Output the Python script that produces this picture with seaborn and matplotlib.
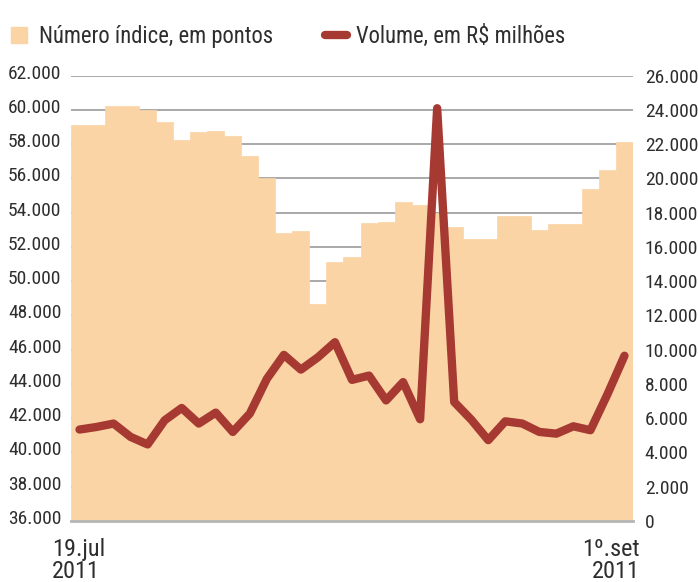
import matplotlib

matplotlib.use("Agg")
import matplotlib.pyplot as plt
import matplotlib.transforms as mtransforms
from matplotlib import font_manager
from matplotlib.lines import Line2D
import pandas as pd
import seaborn as sns

# índice diário (eixo esquerdo) e volume em R$ milhões (eixo direito), 19.jul a 1º.set de 2011
indice = [59100, 59150, 60250, 60250, 60000, 59320, 58260, 58700, 58800, 58500,
          57290, 56030, 52830, 52960, 48660, 51150, 51410, 53400, 53470, 54650,
          54450, 54000, 53160, 52440, 52440, 53800, 53800, 52970, 53350, 53350,
          55400, 56510, 58120]
volume = [5340, 5490, 5690, 4910, 4470, 5880, 6600, 5690, 6330, 5200,
          6270, 8300, 9700, 8840, 9560, 10440, 8240, 8490, 7040, 8110,
          5940, 24100, 6950, 5920, 4720, 5820, 5690, 5200, 5100, 5530,
          5300, 7400, 9650]
ticks_indice = list(range(36000, 62001, 2000))
ticks_volume = list(range(0, 26001, 2000))
rotulos_x = ["19.jul\n2011", "1º.set\n2011"]
legenda = ["Número índice, em pontos", "Volume, em R$ milhões"]

PESSEGO = "#FBD4A6"
VERMELHO = "#A63A32"
TEXTO = "#2e2e2e"

sns.set_style("white")
disponiveis = {f.name for f in font_manager.fontManager.ttflist}
fonte = next((f for f in ["Liberation Sans Narrow", "Roboto Condensed", "Open Sans Condensed", "Roboto"]
              if f in disponiveis), "DejaVu Sans")
plt.rcParams["font.family"] = [fonte, "DejaVu Sans"]


def milhar(v):
    return f"{v:,}".replace(",", ".")


df = pd.DataFrame({"dia": range(len(indice)), "indice": indice, "volume": volume})

fig = plt.figure(figsize=(6.98, 5.82), dpi=100)
ax = fig.add_axes([71 / 698, 61 / 582, 562 / 698, 445.3 / 582])

sns.barplot(data=df, x="dia", y="indice", color=PESSEGO, saturation=1, width=1,
            errorbar=None, edgecolor=PESSEGO, linewidth=0.5, ax=ax)
ax.set_ylim(36000, 62000)
ax.set_axisbelow(True)
ax.yaxis.grid(True, color="#9b9b9b", linewidth=1.2)

ax2 = ax.twinx()
sns.lineplot(data=df, x="dia", y="volume", color=VERMELHO, linewidth=6,
             solid_capstyle="round", solid_joinstyle="round", ax=ax2)
ax2.set_ylim(0, 26000)
ax.set_xlim(-0.5, len(indice) - 0.5)

for a in (ax, ax2):
    for s in a.spines.values():
        s.set_visible(False)
    a.set_xlabel("")
    a.set_ylabel("")
ax.spines["bottom"].set_visible(True)
ax.spines["bottom"].set_color("#b5b5b5")
ax.spines["bottom"].set_linewidth(2)

ax.set_yticks(ticks_indice, [milhar(v) for v in ticks_indice])
ax2.set_yticks(ticks_volume, [milhar(v) for v in ticks_volume])
ax.tick_params(axis="y", length=0, pad=7, labelsize=14, labelcolor=TEXTO)
ax2.tick_params(axis="y", length=0, pad=8.5, labelsize=14, labelcolor=TEXTO)

ax.set_xticks([-0.5, len(indice) - 0.5], rotulos_x)
ax.tick_params(axis="x", length=0, pad=12, labelsize=17.5, labelcolor=TEXTO)

for lbl in ax.get_yticklabels():
    lbl.set_transform(lbl.get_transform() + mtransforms.ScaledTranslation(0, 3 / 72, fig.dpi_scale_trans))
xl = ax.get_xticklabels()
xl[0].set_ha("left")
xl[0].set_transform(xl[0].get_transform() + mtransforms.ScaledTranslation(-19 / 100, 0, fig.dpi_scale_trans))
xl[1].set_ha("right")
xl[1].set_transform(xl[1].get_transform() + mtransforms.ScaledTranslation(7 / 100, 0, fig.dpi_scale_trans))
for lbl in xl:
    lbl.set_linespacing(0.95)

handles = [
    Line2D([], [], marker="s", markersize=12.2, color=PESSEGO, linestyle="none"),
    Line2D([], [], color=VERMELHO, linewidth=6, solid_capstyle="round"),
]
leg = fig.legend(handles, legenda, loc="upper left", bbox_to_anchor=(0.012, 0.957), ncol=2,
                 frameon=False, fontsize=16.3, handlelength=0.95, handletextpad=0.4,
                 columnspacing=2.3, borderaxespad=0, borderpad=0)
for t in leg.get_texts():
    t.set_color(TEXTO)

fig.savefig("out.png", dpi=100)
